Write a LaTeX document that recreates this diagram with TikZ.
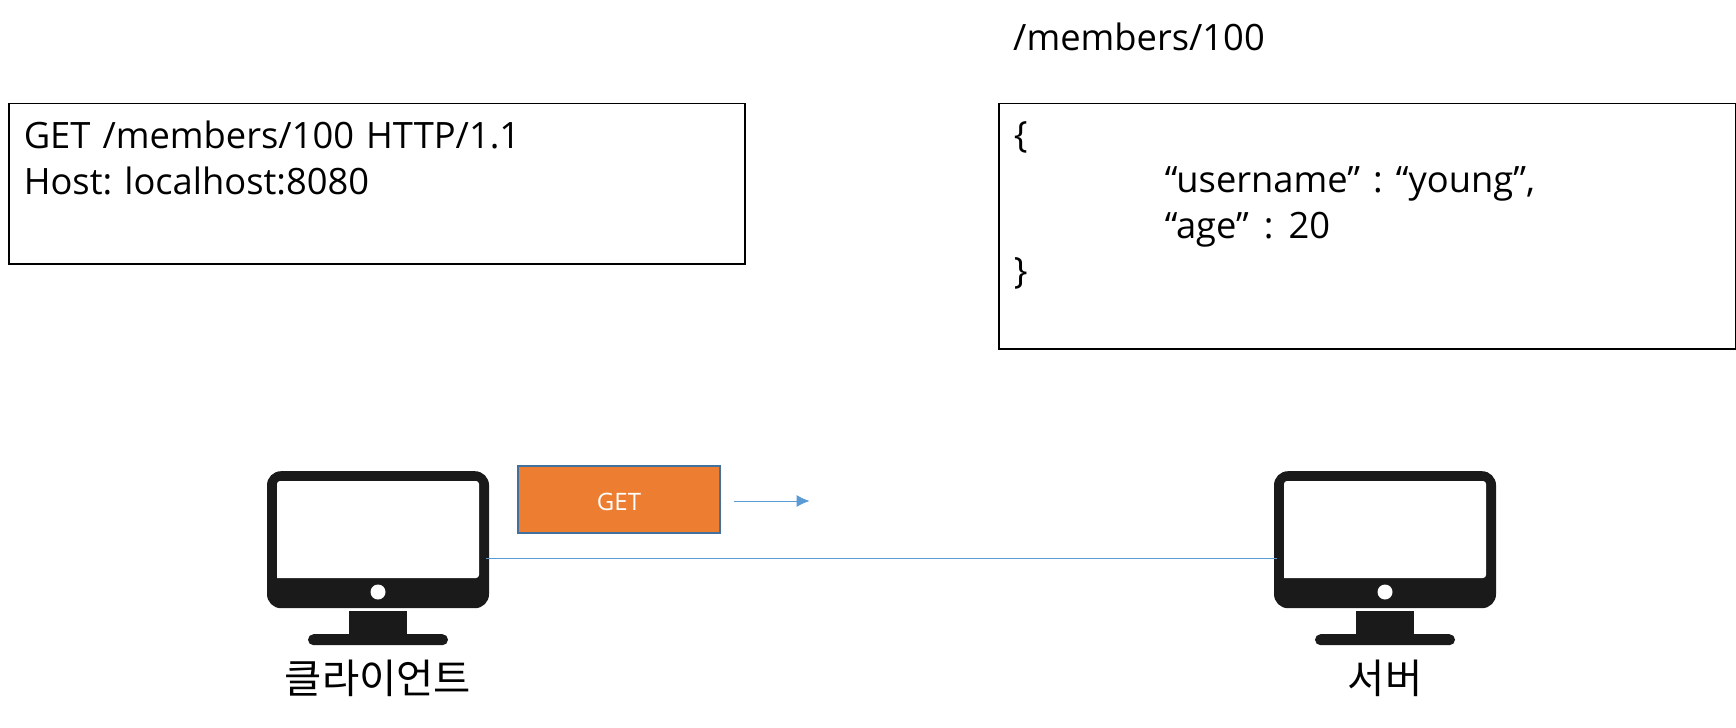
\documentclass[tikz,border=0pt]{standalone}
\usepackage{fontspec}
\setmainfont{Open Sans}
\newfontfamily\krfont{Noto Sans CJK KR}
\usetikzlibrary{arrows.meta,calc,positioning}
\definecolor{Ink}{HTML}{1A1A1A}
\definecolor{Tangerine}{HTML}{ED7D31}
\definecolor{SteelEdge}{HTML}{41719C}
\definecolor{WireBlue}{HTML}{5B9BD5}
\newcommand{\keysep}[1]{\hspace{#1} : \hspace{#1}}
\tikzset{
  message/.style={
    draw=black, line width=1.5pt, anchor=north west, align=left,
    inner xsep=15pt, inner ysep=5pt, font=\frenchspacing\fontsize{36.3}{45.4}\selectfont
  },
  method/.style={
    draw=SteelEdge, line width=1.2pt, fill=Tangerine, text=white,
    minimum width=202pt, minimum height=67pt, inner sep=0pt,
    text height=21pt, text depth=0pt, font=\fontsize{24}{28}\selectfont
  },
  hostname/.style={font=\krfont\fontsize{40.5}{46}\selectfont, inner sep=0pt},
  wire/.style={draw=WireBlue, line width=1pt},
  wirearrow/.style={wire,-{Latex[length=13pt,width=12pt]}},
  pics/monitor/.style={code={
    \node[fill=Ink,rounded corners=14pt,minimum width=222pt,minimum height=137pt,inner sep=0pt,anchor=north] (-body) at (0,0) {};
    \fill[white,rounded corners=3pt] (-101,107) -- (-101,10) -- (101,10) -- (101,107) [sharp corners] -- cycle;
    \fill[white] (0,121) circle (7.5pt);
    \fill[Ink] (-29,140) rectangle (29,164);
    \node[fill=Ink,rounded corners=5.5pt,minimum width=140pt,minimum height=11pt,inner sep=0pt,anchor=north] (-base) at (0,163) {};
  }}
}
\begin{document}
\begin{tikzpicture}[x=1pt,y=-1pt]
  \useasboundingbox (0,1) rectangle (1736,728.5);
  \node[message,minimum width=736pt,minimum height=160pt,text width=706pt] (request) at (8,104)
    {GET /members/100 HTTP/1.1\\Host: localhost:8080\\[7pt]\mbox{}};
  \node[message,minimum width=737pt,minimum height=245pt,text width=707pt] (response) at (998,104)
    {\{\\\hspace{151pt}“username”\keysep{1pt}“young”,\\\hspace{151pt}“age”\keysep{3pt}20\\\}\\[2pt]\mbox{}};
  \node[anchor=west,font=\fontsize{36.3}{45}\selectfont,inner sep=0pt] (path) at ([xshift=15pt,yshift=66pt]response.north west) {/members/100};
  \pic (client) at (378,472) {monitor};
  \pic (server) at (1385,472) {monitor};
  \node[hostname,below=14pt of client-base] (clientname) {클라이언트};
  \node[hostname,below=14pt of server-base] (servername) {서버};
  \node[method] (get) at (619,500.5) {GET};
  \coordinate[right=13pt of get,yshift=-1.5pt] (getstart);
  \coordinate[right=76pt of getstart] (getend);
  \draw[wirearrow] (getstart) -- (getend);
  \draw[wire] ([yshift=-18.5pt,xshift=-3pt]client-body.east) -- ([yshift=-18.5pt,xshift=3pt]server-body.west);
\end{tikzpicture}
\end{document}
